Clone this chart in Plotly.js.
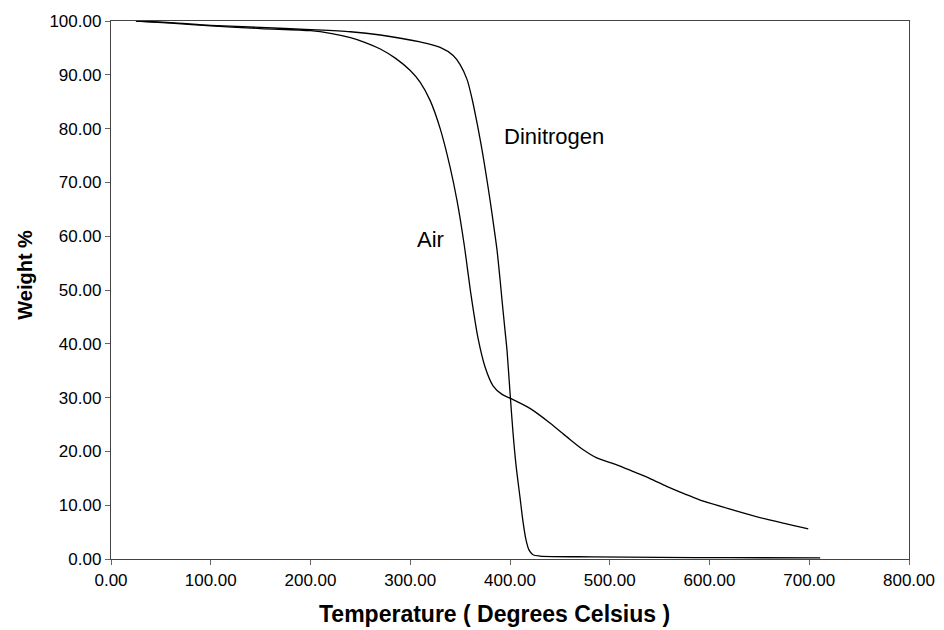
<!DOCTYPE html>
<html>
<head>
<meta charset="utf-8">
<script src="https://cdn.plot.ly/plotly-3.0.1.min.js"></script>
<style>html,body{margin:0;padding:0;background:#fff;}#chart{width:944px;height:630px;}</style>
</head>
<body>
<div id="chart"></div>
<script>
// Air atmosphere TGA curve
const airTemp   = [25, 60, 100, 150, 200, 220, 240, 255, 270, 285, 300, 310, 320, 330, 340, 347, 354, 361, 368, 375, 383, 392, 400, 420, 440, 457, 472, 487, 507, 523, 540, 557, 575, 590, 624, 657, 699];
const airWeight = [100, 99.6, 99.1, 98.6, 98.2, 97.7, 96.9, 96.0, 94.8, 93.1, 90.8, 88.6, 85.2, 80.0, 72.8, 66.5, 58.5, 49.0, 41.0, 35.7, 32.2, 30.6, 29.9, 28.0, 25.3, 22.7, 20.5, 18.8, 17.5, 16.3, 15.0, 13.5, 12.1, 11.0, 9.1, 7.4, 5.6];
// Dinitrogen atmosphere TGA curve
const n2Temp   = [25, 60, 100, 150, 200, 240, 270, 310, 330, 343, 350, 357, 362, 367, 372, 376, 380, 384, 387, 390, 392, 395, 397, 400, 403, 406, 410, 413, 416, 419, 423, 430, 483, 550, 620, 711];
const n2Weight = [100, 99.7, 99.2, 98.8, 98.4, 98.0, 97.4, 96.1, 95.1, 93.6, 91.9, 89.1, 85.5, 81.0, 76.0, 71.5, 66.7, 61.5, 57.4, 52.0, 48.1, 42.5, 38.8, 31.0, 23.5, 17.5, 11.5, 7.0, 3.6, 1.7, 0.8, 0.55, 0.4, 0.3, 0.25, 0.2];
const xTicks = [0, 100, 200, 300, 400, 500, 600, 700, 800];
const yTicks = [0, 10, 20, 30, 40, 50, 60, 70, 80, 90, 100];
const labels = [
  {text: 'Dinitrogen', x: 444, y: 78.6},
  {text: 'Air', x: 320, y: 59.3}
];
const xTitle = 'Temperature ( Degrees Celsius )';
const yTitle = 'Weight %';

const lineStyle = {color: '#000', width: 1.3, shape: 'spline', smoothing: 0.8};
const traces = [
  {x: airTemp, y: airWeight, mode: 'lines', name: 'Air', line: lineStyle, hoverinfo: 'x+y'},
  {x: n2Temp, y: n2Weight, mode: 'lines', name: 'Dinitrogen', line: lineStyle, hoverinfo: 'x+y'}
];

const font = 'Liberation Sans, Arial, sans-serif';
const annos = labels.map(l => ({
  text: l.text, x: l.x, y: l.y, xref: 'x', yref: 'y', showarrow: false,
  font: {size: 22, family: font, color: '#000'}
}));
annos.push({text: '<b>' + xTitle + '</b>', xref: 'paper', yref: 'paper', x: 0.48, y: -0.102,
  xanchor: 'center', yanchor: 'middle', showarrow: false, font: {size: 23, family: font, color: '#000'}});
annos.push({text: '<b>' + yTitle + '</b>', xref: 'paper', yref: 'paper', x: -0.108, y: 0.528,
  xanchor: 'center', yanchor: 'middle', textangle: -90, showarrow: false, font: {size: 20, family: font, color: '#000'}});

const layout = {
  width: 944, height: 630,
  margin: {l: 111, r: 35, t: 21, b: 71},
  paper_bgcolor: '#fff', plot_bgcolor: '#fff',
  showlegend: false,
  font: {family: font, color: '#000', size: 17},
  xaxis: {
    range: [0, 800], tickvals: xTicks, ticktext: xTicks.map(v => v.toFixed(2)),
    showgrid: false, zeroline: false, showline: true, mirror: true,
    linecolor: '#444', linewidth: 1.2, ticks: 'outside', ticklen: 5, tickcolor: '#666',
    tickfont: {size: 17, family: font}
  },
  yaxis: {
    range: [0, 100], tickvals: yTicks, ticktext: yTicks.map(v => v.toFixed(2)),
    showgrid: false, zeroline: false, showline: true, mirror: true,
    linecolor: '#444', linewidth: 1.2, ticks: 'outside', ticklen: 5, tickcolor: '#666',
    tickfont: {size: 17, family: font}
  },
  annotations: annos
};

Plotly.newPlot('chart', traces, layout, {staticPlot: true, displayModeBar: false});
</script>
</body>
</html>
